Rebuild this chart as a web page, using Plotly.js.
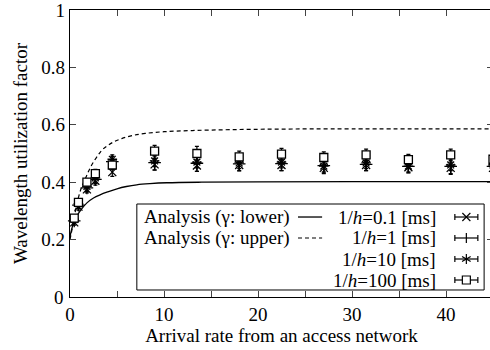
<!DOCTYPE html>
<html>
<head>
<meta charset="utf-8">
<script src="https://cdn.plot.ly/plotly-3.0.1.min.js"></script>
<style>
html,body{margin:0;padding:0;overflow:hidden;background:#fff;}
</style>
</head>
<body>
<div id="chart" style="width:493px;height:350px;"></div>
<script>
// ---- data ----
const arrivalRate = [0.45, 0.9, 1.8, 2.7, 4.5, 9, 13.5, 18, 22.5, 27, 31.5, 36, 40.5, 45];
const util_h01  = [0.26, 0.315, 0.375, 0.405, 0.435, 0.462, 0.458, 0.46, 0.46, 0.45, 0.46, 0.452, 0.45, 0.45];
const util_h1   = [0.265, 0.32, 0.38, 0.41, 0.472, 0.468, 0.466, 0.464, 0.465, 0.458, 0.462, 0.455, 0.455, 0.455];
const util_h10  = [0.27, 0.325, 0.385, 0.415, 0.48, 0.474, 0.47, 0.467, 0.47, 0.456, 0.467, 0.456, 0.46, 0.46];
const util_h100 = [0.275, 0.33, 0.40, 0.43, 0.46, 0.508, 0.50, 0.488, 0.498, 0.486, 0.495, 0.479, 0.495, 0.48];
const err_h01  = [0.01, 0.012, 0.012, 0.015, 0.015, 0.02, 0.02, 0.02, 0.02, 0.02, 0.02, 0.02, 0.02, 0.02];
const err_h1   = [0.01, 0.012, 0.012, 0.015, 0.018, 0.025, 0.028, 0.025, 0.025, 0.025, 0.022, 0.022, 0.028, 0.025];
const err_h10  = [0.01, 0.012, 0.012, 0.015, 0.015, 0.02, 0.02, 0.02, 0.02, 0.02, 0.02, 0.02, 0.02, 0.02];
const err_h100 = [0.01, 0.012, 0.012, 0.015, 0.015, 0.02, 0.025, 0.02, 0.02, 0.02, 0.02, 0.018, 0.02, 0.02];

const lowerX = [0, 0.3, 0.7, 1.2, 1.8, 2.5, 3.2, 4, 5, 6, 7.1, 8.5, 10.3, 14, 20, 30, 45];
const lowerY = [0.21, 0.25, 0.28, 0.305, 0.328, 0.345, 0.356, 0.366, 0.377, 0.385, 0.391, 0.395, 0.398, 0.4, 0.401, 0.402, 0.402];
const upperX = [0, 0.3, 0.7, 1.2, 1.6, 2.0, 2.4, 3.0, 3.5, 4.5, 5.5, 6.7, 8, 10, 13, 17, 22, 30, 45];
const upperY = [0.2, 0.25, 0.32, 0.38, 0.41, 0.44, 0.465, 0.495, 0.515, 0.538, 0.552, 0.563, 0.57, 0.576, 0.58, 0.583, 0.585, 0.586, 0.586];

const xTicks = [0, 5, 10, 15, 20, 25, 30, 35, 40, 45];
const xTickText = ['0', '', '10', '', '20', '', '30', '', '40', ''];
const yTicks = [0, 0.2, 0.4, 0.6, 0.8, 1];
const yTickText = ['0', '0.2', '0.4', '0.6', '0.8', '1'];

const legendLeft = ['Analysis (γ: lower)', 'Analysis (γ: upper)'];
const legendRight = ['1/<i>h</i>=0.1 [ms]', '1/<i>h</i>=1 [ms]', '1/<i>h</i>=10 [ms]', '1/<i>h</i>=100 [ms]'];

// ---- traces ----
const FONT = 'Liberation Serif';
function pts(y, err, sym, size) {
  return {
    x: arrivalRate, y: y, type: 'scatter', mode: 'markers',
    marker: {symbol: sym, size: size, color: '#000', line: {color: '#000', width: 1.3}},
    error_y: {type: 'data', array: err, visible: true, color: '#000', thickness: 1.2, width: 2},
    cliponaxis: false, showlegend: false
  };
}
const traces = [
  {x: lowerX, y: lowerY, type: 'scatter', mode: 'lines', line: {color: '#000', width: 1.3, shape: 'spline'}, showlegend: false},
  {x: upperX, y: upperY, type: 'scatter', mode: 'lines', line: {color: '#000', width: 1.2, dash: '4px,3px', shape: 'spline'}, showlegend: false},
  pts(util_h01, err_h01, 'x-thin-open', 8),
  pts(util_h1, err_h1, 'cross-thin-open', 9),
  pts(util_h10, err_h10, 'asterisk-open', 8),
  Object.assign(pts(util_h100, err_h100, 'square', 8), {marker: {symbol: 'square', size: 8, color: '#fff', line: {color: '#000', width: 1.3}}})
];

// ---- legend (gnuplot style, drawn as decoration) ----
const rowY = [0.2787, 0.2056, 0.1324, 0.0592];
const annotations = [];
const shapes = [
  {type: 'rect', xref: 'paper', yref: 'paper', x0: 0.158, x1: 0.979, y0: 0.0244, y1: 0.324,
   line: {color: '#000', width: 1}, fillcolor: '#fff', layer: 'above'}
];
legendLeft.forEach((t, i) => {
  annotations.push({xref: 'paper', yref: 'paper', x: 0.525, y: rowY[i], text: t, showarrow: false,
    xanchor: 'right', yanchor: 'middle', font: {family: FONT, size: 19, color: '#000'}});
});
shapes.push({type: 'line', xref: 'paper', yref: 'paper', x0: 0.539, x1: 0.596, y0: rowY[0], y1: rowY[0], line: {color: '#000', width: 1.3}, layer: 'above'});
shapes.push({type: 'line', xref: 'paper', yref: 'paper', x0: 0.539, x1: 0.596, y0: rowY[1], y1: rowY[1], line: {color: '#000', width: 1.2, dash: '4px,3px'}, layer: 'above'});
legendRight.forEach((t, i) => {
  annotations.push({xref: 'paper', yref: 'paper', x: 0.870, y: rowY[i], text: t, showarrow: false,
    xanchor: 'right', yanchor: 'middle', font: {family: FONT, size: 19, color: '#000'}});
});
const cx = 0.937;
function pshape(i, x0, x1, y0, y1, extra) {
  return Object.assign({type: 'line', xref: 'paper', yref: 'paper', xsizemode: 'pixel', ysizemode: 'pixel',
    xanchor: cx, yanchor: rowY[i], x0: x0, x1: x1, y0: y0, y1: y1, line: {color: '#000', width: 1.2}, layer: 'above'}, extra || {});
}
for (let i = 0; i < 4; i++) {
  shapes.push(pshape(i, -11.5, 11.5, 0, 0));
  shapes.push(pshape(i, -11.5, -11.5, -3, 3));
  shapes.push(pshape(i, 11.5, 11.5, -3, 3));
}
shapes.push(pshape(0, -4, 4, -4, 4)); shapes.push(pshape(0, -4, 4, 4, -4));
shapes.push(pshape(1, 0, 0, -5, 5));
shapes.push(pshape(2, 0, 0, -5, 5)); shapes.push(pshape(2, -4.3, 4.3, -2.5, 2.5)); shapes.push(pshape(2, -4.3, 4.3, 2.5, -2.5));
shapes.push(pshape(3, -4, 4, -4, 4, {type: 'rect', fillcolor: '#fff'}));

// y-axis "0" label drawn as an annotation at the axis origin (Plotly drops it here)
annotations.push({xref: 'paper', yref: 'y', x: 0, y: yTicks[0], text: yTickText[0], showarrow: false,
  xanchor: 'right', yanchor: 'middle', xshift: -4, font: {family: FONT, size: 19, color: '#000'}});
const yAxisTickText = yTickText.map((t, i) => i === 0 ? ' ' : t);

const layout = {
  width: 493, height: 350,
  margin: {l: 70, r: 0, t: 10, b: 53},
  paper_bgcolor: '#fff', plot_bgcolor: '#fff',
  font: {family: FONT, size: 19, color: '#000'},
  showlegend: false,
  xaxis: {
    range: [0, 45], tickvals: xTicks, ticktext: xTickText, ticks: 'inside', ticklen: 6, tickwidth: 1,
    showline: true, linecolor: '#000', linewidth: 1.2, mirror: 'ticks', showgrid: false, zeroline: false,
    tickfont: {family: FONT, size: 19}, ticklabeloverflow: 'allow',
    title: {text: 'Arrival rate from an access network', font: {family: FONT, size: 19}, standoff: 4}
  },
  yaxis: {
    range: [0, 1], tickvals: yTicks, ticktext: yAxisTickText, ticks: 'inside', ticklen: 6, tickwidth: 1,
    showline: true, linecolor: '#000', linewidth: 1.2, mirror: 'ticks', showgrid: false, zeroline: false,
    tickfont: {family: FONT, size: 19}, ticklabeloverflow: 'allow',
    title: {text: 'Wavelength utilization factor', font: {family: FONT, size: 19}, standoff: 8}
  },
  shapes: shapes,
  annotations: annotations
};
Plotly.newPlot('chart', traces, layout, {displayModeBar: false, staticPlot: true});
</script>
</body>
</html>
